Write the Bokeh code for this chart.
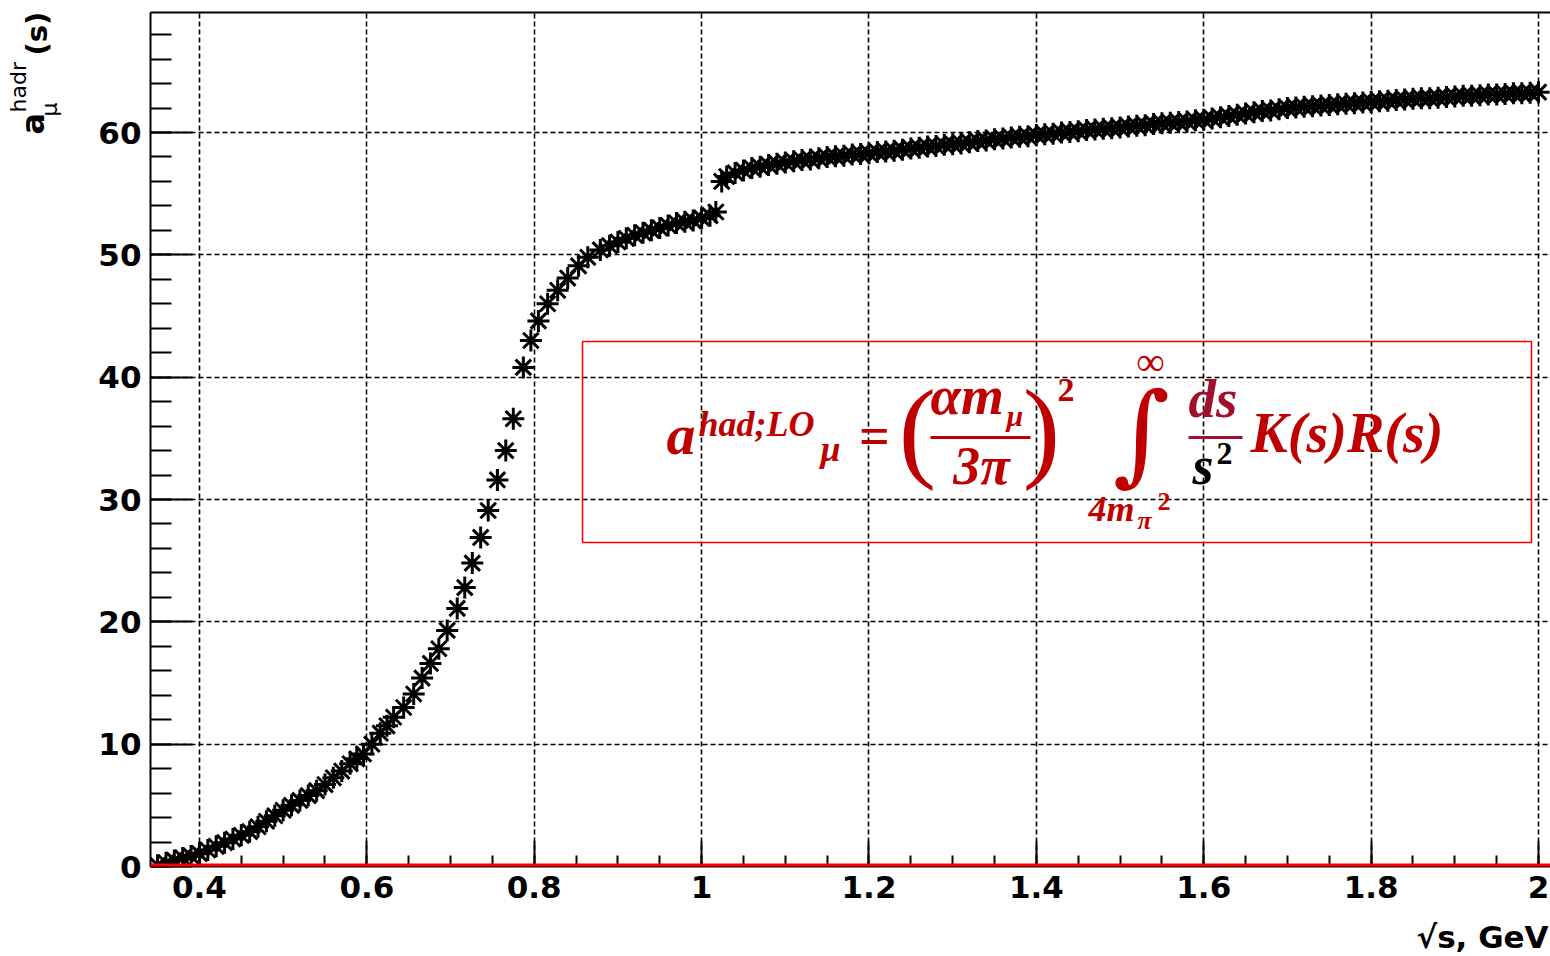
import math
from bokeh.plotting import figure
from bokeh.layouts import row, column
from bokeh.models import Label, BoxAnnotation, Span, FixedTicker, LinearAxis, Range1d
from bokeh.embed import file_html
from bokeh.resources import INLINE

# ---------------- data ----------------
# threshold region
sqrt_s_thr = [0.35, 0.36, 0.37, 0.38, 0.39, 0.40, 0.41, 0.42, 0.43, 0.44, 0.45, 0.46,
              0.47, 0.48, 0.49, 0.50, 0.51, 0.52, 0.53, 0.54, 0.55, 0.56, 0.57, 0.58, 0.588]
a_mu_thr = [0.1, 0.3, 0.5, 0.7, 0.85, 1.05, 1.35, 1.65, 1.95, 2.25, 2.55, 2.85,
            3.25, 3.7, 4.15, 4.6, 5.0, 5.4, 5.8, 6.2, 6.7, 7.25, 7.8, 8.4, 8.8]
# rho / omega / phi region
sqrt_s_rho = [0.596, 0.606, 0.616, 0.624, 0.632, 0.644, 0.656, 0.666, 0.676, 0.686, 0.696,
              0.708, 0.717, 0.726, 0.736, 0.745, 0.756, 0.766, 0.775, 0.787, 0.796, 0.805,
              0.816, 0.828, 0.840, 0.853, 0.864, 0.879, 0.89, 0.90, 0.91, 0.92, 0.93, 0.94,
              0.95, 0.96, 0.97, 0.98, 0.99, 1.00, 1.01, 1.017]
a_mu_rho = [9.2, 10.0, 10.9, 11.5, 12.2, 13.0, 14.1, 15.4, 16.6, 17.8, 19.3,
            21.1, 22.8, 24.8, 26.9, 29.1, 31.6, 34.0, 36.6, 40.8, 43.0, 44.6,
            46.0, 47.1, 48.1, 49.1, 49.8, 50.4, 50.75, 51.05, 51.35, 51.6, 51.8, 52.0,
            52.2, 52.4, 52.6, 52.7, 52.8, 53.0, 53.2, 53.5]
# above 1 GeV
sqrt_s_high = [1.024, 1.03, 1.04, 1.05, 1.06, 1.07, 1.08, 1.09, 1.10, 1.11, 1.12, 1.13, 1.14,
               1.15, 1.16, 1.17, 1.18, 1.19, 1.20, 1.21, 1.22, 1.23, 1.24, 1.25, 1.26, 1.27,
               1.28, 1.29, 1.30, 1.31, 1.32, 1.33, 1.34, 1.35, 1.36, 1.37, 1.38, 1.39, 1.40,
               1.41, 1.42, 1.43, 1.44, 1.45, 1.46, 1.47, 1.48, 1.49, 1.50, 1.51, 1.52, 1.53,
               1.54, 1.55, 1.56, 1.57, 1.58, 1.59, 1.60, 1.61, 1.62, 1.63, 1.64, 1.65, 1.66,
               1.67, 1.68, 1.69, 1.70, 1.71, 1.72, 1.73, 1.74, 1.75, 1.76, 1.77, 1.78, 1.79,
               1.80, 1.81, 1.82, 1.83, 1.84, 1.85, 1.86, 1.87, 1.88, 1.89, 1.90, 1.91, 1.92,
               1.93, 1.94, 1.95, 1.96, 1.97, 1.98, 1.99, 2.00]
a_mu_high = [56.0, 56.4, 56.7, 56.9, 57.1, 57.2, 57.35, 57.45, 57.55, 57.65, 57.75, 57.8, 57.9,
             58.0, 58.05, 58.1, 58.2, 58.25, 58.3, 58.4, 58.45, 58.5, 58.6, 58.7, 58.75, 58.85,
             58.9, 59.0, 59.05, 59.1, 59.2, 59.3, 59.35, 59.45, 59.5, 59.6, 59.65, 59.7, 59.8,
             59.85, 59.9, 60.0, 60.05, 60.1, 60.2, 60.25, 60.3, 60.35, 60.4, 60.5, 60.55, 60.6,
             60.7, 60.75, 60.8, 60.85, 60.9, 61.0, 61.05, 61.15, 61.25, 61.35, 61.45, 61.55, 61.65,
             61.75, 61.8, 61.9, 62.0, 62.05, 62.1, 62.15, 62.2, 62.25, 62.3, 62.35, 62.4, 62.45,
             62.5, 62.55, 62.6, 62.65, 62.7, 62.75, 62.8, 62.8, 62.85, 62.9, 62.95, 63.0, 63.0,
             63.05, 63.1, 63.1, 63.15, 63.2, 63.2, 63.25, 63.3]

x_ticks = [0.4, 0.6, 0.8, 1.0, 1.2, 1.4, 1.6, 1.8, 2.0]
x_tick_labels = ["0.4", "0.6", "0.8", "1", "1.2", "1.4", "1.6", "1.8", "2"]
y_ticks = [0, 10, 20, 30, 40, 50, 60]

# ---------------- geometry ----------------
W, H = 1550, 956
YLW = 70                      # width of the strip holding the y-axis title
XLH = 40                      # height of the strip holding the x-axis title
X0, X1 = 0.3415, 2.0143
Y0, Y1 = 0.0, 69.81
FL, FR, FT, FB = 150, 1550, 12, 866   # frame edges in page pixels
BASE = 0.37                   # alphabetic-baseline correction (fraction of font size)

def dx(px):
    return X0 + (px - FL) * (X1 - X0) / (FR - FL)

def dy(py):
    return Y0 + (FB - py) * (Y1 - Y0) / (FB - FT)

def strip(width, height, xr, yr):
    f = figure(width=width, height=height, output_backend="svg", toolbar_location=None,
               x_range=Range1d(*xr), y_range=Range1d(*yr),
               x_axis_type=None, y_axis_type=None,
               min_border_left=0, min_border_right=0, min_border_top=0, min_border_bottom=0)
    f.outline_line_color = None
    f.grid.visible = False
    f.background_fill_color = "white"
    f.border_fill_color = "white"
    return f

lab_font = "DejaVu Sans"

# ---------------- y-axis title strip (pixel coordinates) ----------------
ylab = strip(YLW, H, (0, YLW), (H, 0))

def rlab(px, py, text, size, style="bold"):
    s = float(size.replace("px", ""))
    ylab.add_layout(Label(x=px - BASE * s, y=py, text=text, angle=math.pi / 2,
                          text_font=lab_font, text_font_style=style,
                          text_font_size=size, text_color="black",
                          text_align="left", text_baseline="alphabetic"))

rlab(44, 134, "a", "32px")
rlab(26, 112, "hadr", "22px", style="normal")
rlab(57, 116, "μ", "22px", style="normal")
rlab(47, 55, "(s)", "29px")

# ---------------- x-axis title strip (pixel coordinates) ----------------
xlab = strip(W - YLW, XLH, (YLW, W), (H, H - XLH))
xlab.add_layout(Label(x=1548, y=948 - BASE * 31, text="√s, GeV", text_font=lab_font,
                      text_font_style="bold", text_font_size="31px", text_color="black",
                      text_align="right", text_baseline="alphabetic"))

# ---------------- main figure ----------------
p = figure(width=W - YLW, height=H - XLH, output_backend="svg", toolbar_location=None,
           x_range=Range1d(X0, X1), y_range=Range1d(Y0, Y1),
           min_border_left=FL - YLW, min_border_right=W - FR, min_border_top=FT,
           min_border_bottom=H - XLH - FB)
p.outline_line_color = None
p.background_fill_color = "white"
p.border_fill_color = "white"

xa = p.xaxis[0]
xa.ticker = FixedTicker(ticks=x_ticks,
                        minor_ticks=[round(0.35 + 0.05 * i, 3) for i in range(34)])
xa.major_label_overrides = {t: l for t, l in zip(x_ticks, x_tick_labels)}
ya = p.yaxis[0]
ya.ticker = FixedTicker(ticks=y_ticks, minor_ticks=[2 * i for i in range(35)])

for ax in (xa, ya):
    ax.axis_line_color = "black"
    ax.axis_line_width = 2
    ax.major_tick_line_width = 2
    ax.minor_tick_line_width = 2
    ax.major_tick_line_color = "black"
    ax.minor_tick_line_color = "black"
    ax.major_tick_out = 0
    ax.minor_tick_out = 0
    ax.major_label_text_font = lab_font
    ax.major_label_text_font_style = "bold"
    ax.major_label_text_font_size = "31px"
    ax.major_label_text_color = "black"
xa.major_tick_in = 25
xa.minor_tick_in = 11
xa.major_label_standoff = 9
ya.major_tick_in = 42
ya.minor_tick_in = 21
ya.major_label_standoff = 9

top = LinearAxis(ticker=FixedTicker(ticks=[]), major_label_text_font_size="0px",
                 axis_line_width=2, axis_line_color="black",
                 major_tick_in=0, major_tick_out=0, minor_tick_in=0, minor_tick_out=0)
p.add_layout(top, "above")

for g in (p.xgrid[0], p.ygrid[0]):
    g.grid_line_color = "black"
    g.grid_line_dash = "5 3"
    g.grid_line_width = 1.6

p.add_layout(Span(location=0, dimension="width", line_color="#FF0000", line_width=6))

xs = sqrt_s_thr + sqrt_s_rho + sqrt_s_high
ys = a_mu_thr + a_mu_rho + a_mu_high
p.scatter(xs, ys, marker="asterisk", size=22, line_color="black", line_width=3)

# ---------------- formula box ----------------
RED = "#C00000"
DRED = "#A0102E"
p.add_layout(BoxAnnotation(left=dx(582), right=dx(1531), top=dy(341), bottom=dy(542),
                           fill_color=None, fill_alpha=0, line_color="#FF0000",
                           line_alpha=1, line_width=1.5))

ffont = "Liberation Serif"
def flab(px, py, text, size, color=RED, style="bold italic", align="left", font=ffont):
    s = float(size.replace("px", ""))
    p.add_layout(Label(x=dx(px), y=dy(py - BASE * s), text=text, text_font=font,
                       text_font_style=style, text_font_size=size, text_color=color,
                       text_align=align, text_baseline="alphabetic"))

def bar(x0, x1, yc, color):
    p.add_layout(BoxAnnotation(left=dx(x0), right=dx(x1), top=dy(yc - 1.5), bottom=dy(yc + 1.5),
                               fill_color=color, fill_alpha=1, line_color=None))

flab(666, 455, "a", "58px")
flab(698, 437, "had;LO", "36px")
flab(820, 462, "μ", "36px")
flab(874, 455, "=", "54px", style="bold", align="center")
flab(917, 470, "(", "112px", style="normal", align="center")
flab(930, 415, "αm", "55px")
flab(1006, 426, "μ", "30px")
bar(930, 1030, 437, RED)
flab(981, 485, "3π", "54px", align="center")
flab(1041, 470, ")", "112px", style="normal", align="center")
flab(1057, 402, "2", "34px", style="bold")
flab(1141, 473, "∫", "110px", style="normal", align="center", font="DejaVu Serif")
flab(1150, 376, "∞", "40px", style="normal", align="center")
flab(1088, 522, "4m", "36px")
flab(1137, 530, "π", "26px")
flab(1157, 511, "2", "26px", style="bold")
flab(1188, 418, "ds", "55px", color=DRED)
bar(1188, 1242, 437, DRED)
flab(1192, 485, "s", "54px", color="black")
flab(1216, 465, "2", "32px", color="black", style="bold")
flab(1250, 453, "K(s)R(s)", "56px")

layout = row(ylab, column(p, xlab, spacing=0), spacing=0)
open("out.html", "w").write(file_html(layout, INLINE))
